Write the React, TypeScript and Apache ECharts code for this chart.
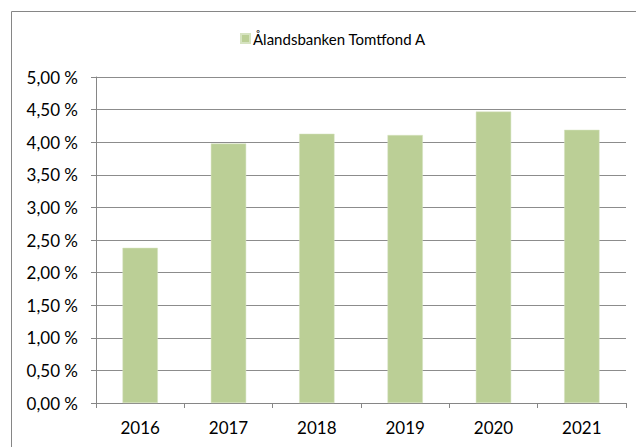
import React, { useEffect, useRef } from "react";
import * as echarts from "echarts";

const categories = ["2016", "2017", "2018", "2019", "2020", "2021"];
const seriesName = "Ålandsbanken Tomtfond A";
const values = [2.38, 3.98, 4.13, 4.11, 4.47, 4.19];

const FONT = "Lato, 'Open Sans', sans-serif";

export default function App() {
  const ref = useRef<HTMLDivElement>(null);
  useEffect(() => {
    if (!ref.current) return;
    const chart = echarts.init(ref.current, undefined, { renderer: "svg" });
    chart.setOption({
      animation: false,
      backgroundColor: "#ffffff",
      textStyle: { fontFamily: FONT },
      graphic: [
        {
          type: "rect",
          shape: { x: 11.5, y: 11.5, width: 700, height: 600 },
          style: { fill: "none", stroke: "#868686", lineWidth: 1 },
          silent: true,
        },
      ],
      legend: {
        data: [seriesName],
        left: 240,
        top: 31,
        padding: 0,
        itemWidth: 9,
        itemHeight: 9,
        icon: "rect",
        textStyle: { fontFamily: FONT, fontSize: 15, color: "#000", padding: [0, 0, 0, -2] },
      },
      grid: { left: 96, right: 10, top: 77, bottom: 44, containLabel: false },
      xAxis: {
        type: "category",
        data: categories,
        axisLine: { lineStyle: { color: "#868686", width: 1 } },
        axisTick: { show: true, alignWithLabel: false, length: 5, lineStyle: { color: "#868686" } },
        axisLabel: { fontFamily: FONT, fontSize: 17, color: "#000", margin: 16 },
        splitLine: { show: false },
      },
      yAxis: {
        type: "value",
        min: 0,
        max: 5,
        interval: 0.5,
        axisLine: { show: true, lineStyle: { color: "#868686", width: 1 } },
        axisTick: { show: true, length: 5, lineStyle: { color: "#868686" } },
        axisLabel: {
          fontFamily: FONT,
          fontSize: 17,
          color: "#000",
          margin: 18,
          formatter: (v: number) => v.toFixed(2).replace(".", ",") + " %",
        },
        splitLine: { show: true, lineStyle: { color: "#8c8c8c", width: 1 } },
      },
      series: [
        {
          name: seriesName,
          type: "bar",
          data: values,
          barWidth: "40%",
          itemStyle: { color: "#bbcf96", borderColor: "#d6e3c1", borderWidth: 0.5 },
        },
      ],
    });
    return () => chart.dispose();
  }, []);
  return (
    <div
      ref={ref}
      style={{ position: "fixed", left: 0, top: 0, width: 636, height: 447 }}
    />
  );
}
